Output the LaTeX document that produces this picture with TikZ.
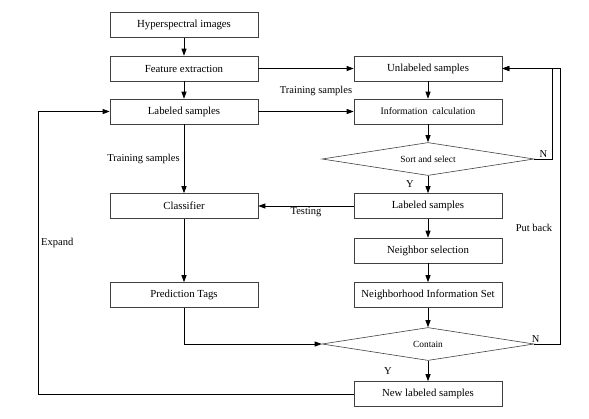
\documentclass[tikz,border=0pt]{standalone}
\usepackage{fontspec}
\setmainfont{Liberation Serif}
\usetikzlibrary{arrows.meta,shapes.geometric,positioning,calc}

\begin{document}
\begin{tikzpicture}[
    x=1pt, y=-1pt,
    box/.style={draw=black!75, line width=0.6pt, minimum width=148pt, minimum height=25pt, inner sep=2pt, font=\fontsize{10.8}{13}\selectfont},
    dec/.style={draw=black!75, line width=0.6pt, diamond, aspect=6.4, inner sep=0pt, minimum width=212pt, minimum height=33pt, font=\fontsize{9.4}{11}\selectfont},
    lbl/.style={font=\fontsize{10.5}{12}\selectfont, inner sep=1pt},
    arr/.style={-{Triangle[length=7pt,width=5pt]}, line width=0.8pt}
]
\useasboundingbox (0,0) rectangle (589,418);

% left column
\node[box] (hsi) at (184,25) {Hyperspectral images};
\node[box] (feat) at (184,68.5) {Feature extraction};
\node[box] (lab) at (184,111.5) {Labeled samples};
\node[box] (clf) at (184,206) {Classifier};
\node[box] (pred) at (184,295) {Prediction Tags};

% right column
\node[box] (unlab) at (428,68.5) {Unlabeled samples};
\node[box, font=\fontsize{9.8}{12}\selectfont] (info) at (428,111.5) {Information\ \ calculation};
\node[dec] (sort) at (428,159) {Sort and select};
\node[box] (labr) at (428,206) {Labeled samples};
\node[box] (nbr) at (428,250.5) {Neighbor selection};
\node[box] (nbset) at (428,295) {Neighborhood Information Set};
\node[dec] (cont) at (428,344) {Contain};
\node[box] (newlab) at (428,394) {New labeled samples};

\draw[arr] (hsi) -- (feat);
\draw[arr] (feat) -- (lab);
\draw[arr] (lab) -- node[lbl, left=3pt] (trainl) {Training samples} (clf);
\draw[arr] (clf) -- (pred);
\draw[arr] (feat) -- (unlab);
\node[lbl] (trainr) at (316,91) {Training samples};
\draw[arr] (lab) -- (info);

\draw[arr] (unlab) -- (info);
\draw[arr] (info) -- (sort);
\draw[arr] (sort) -- node[lbl, left=13pt] (ysort) {Y} (labr);
\draw[arr] (labr) -- node[lbl, below] (test) {Testing} (clf);
\draw[arr] (labr) -- (nbr);
\draw[arr] (nbr) -- (nbset);
\draw[arr] (nbset) -- (cont);
\draw[arr] (cont) -- node[lbl, left=35pt] (ycont) {Y} (newlab);
\draw[arr] (pred.south) |- (cont.west);

% loops back
\draw[arr] (sort.east) -- node[lbl, above] (nsort) {N} ++(18,0) |- (unlab.east);
\draw[arr] (cont.east) -- node[lbl, above, pos=0.05] (ncont) {N} ++(26,0) |- (unlab.east);
\node[lbl] (putback) at (534,228) {Put back};
\draw[arr] (newlab.west) -- ++(-315,0) |- (lab.west);
\node[lbl, anchor=west] (expand) at (40,243) {Expand};
\end{tikzpicture}
\end{document}
